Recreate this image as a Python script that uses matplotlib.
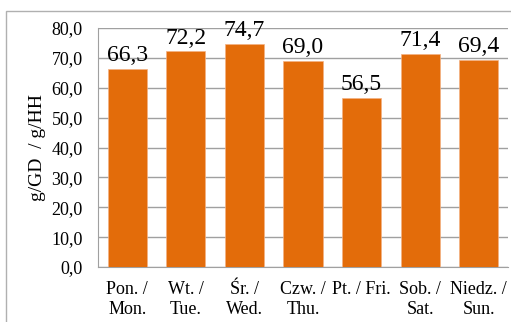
import matplotlib.pyplot as plt
from matplotlib.patches import Rectangle

dni = ["Pon. /\nMon.", "Wt. /\nTue.", "Śr. /\nWed.", "Czw. /\nThu.", "Pt. / Fri.", "Sob. /\nSat.", "Niedz. /\nSun."]
wartosci = [66.3, 72.2, 74.7, 69.0, 56.5, 71.4, 69.4]
yticks = [0, 10, 20, 30, 40, 50, 60, 70, 80]

plt.rcParams['font.family'] = ['Liberation Serif', 'DejaVu Serif']

fig = plt.figure(figsize=(5.11, 3.22), dpi=100)
# ramka wykresu
fig.patches.append(Rectangle((6/511, -0.1), 1.2, 1 - 11/322 + 0.1, transform=fig.transFigure,
                             fill=False, edgecolor="#b0b0b0", linewidth=1))
ax = fig.add_axes([98/511, 55/322, 410/511, 239/322])

x = range(len(dni))
ax.bar(x, wartosci, width=0.67, color="#E36C0A", edgecolor="#F4B183", linewidth=0.5, zorder=3)
for i, v in enumerate(wartosci):
    ax.annotate(f"{v:.1f}".replace(".", ","), (i, v), xytext=(0, 2), textcoords="offset points",
                ha="center", va="bottom", fontsize=17, annotation_clip=False)

ax.set_xlim(-0.5, len(dni) - 0.5)
ax.set_ylim(0, 80)
ax.set_yticks(yticks)
ax.set_yticklabels([f"{t:.1f}".replace(".", ",") for t in yticks], fontsize=13)
ax.set_xticks(list(x))
ax.set_xticklabels(dni, fontsize=13, linespacing=1.25)
ax.tick_params(length=0)
ax.tick_params(axis="x", pad=10)
ax.tick_params(axis="y", pad=11)
ax.yaxis.grid(True, color="#a0a0a0", linewidth=1, zorder=0)
for s in ["top", "right"]:
    ax.spines[s].set_visible(False)
for s in ["left", "bottom"]:
    ax.spines[s].set_color("#a0a0a0")
ax.set_ylabel("g/GD  / g/HH", fontsize=14, labelpad=4)

plt.savefig("out.png", dpi=100)
